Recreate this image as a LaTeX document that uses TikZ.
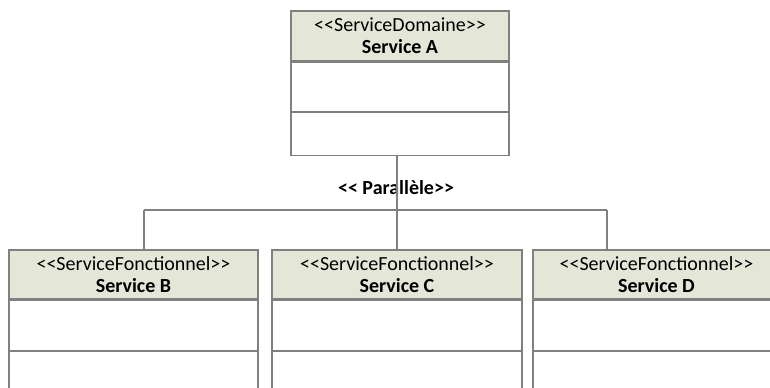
\documentclass[tikz,border=0pt]{standalone}
\usepackage{fontspec}
\setmainfont{Carlito}
\definecolor{hdr}{RGB}{228,231,215}
\definecolor{ln}{RGB}{128,128,128}
\begin{document}
\begin{tikzpicture}[x=0.75pt,y=-0.75pt,
  hdrbox/.style={draw=ln,line width=0.8pt,fill=hdr,inner sep=0pt,align=center,
    font=\fontsize{15}{16.5}\selectfont,minimum height=49*0.75pt},
  cmpbox/.style={draw=ln,line width=0.8pt,fill=white,inner sep=0pt},
  wire/.style={draw=ln,line width=0.8pt},
  lbl/.style={font=\bfseries\fontsize{15}{17}\selectfont,inner sep=0pt}]
\useasboundingbox (0,0) rectangle (770,387);
\clip (0,0) rectangle (770,387);
\fill[white] (0,0) rectangle (770,387);
% Service A
\node[hdrbox,minimum width=218*0.75pt,minimum height=50*0.75pt] (Ah) at (400,36)
  {<{}<ServiceDomaine>{}>\\\textbf{Service A}};
\node[cmpbox,anchor=north,minimum width=218*0.75pt,minimum height=49*0.75pt] (A1) at (Ah.south) {};
\node[cmpbox,anchor=north,minimum width=218*0.75pt,minimum height=43*0.75pt] (A2) at (A1.south) {};
% Service B
\node[hdrbox,minimum width=249*0.75pt] (Bh) at (133.5,274.5)
  {<{}<ServiceFonctionnel>{}>\\\textbf{Service B}};
\node[cmpbox,anchor=north,minimum width=249*0.75pt,minimum height=50*0.75pt] (B1) at (Bh.south) {};
\node[cmpbox,anchor=north,minimum width=249*0.75pt,minimum height=60*0.75pt] (B2) at (B1.south) {};
% Service C
\node[hdrbox,minimum width=250*0.75pt] (Ch) at (397,274.5)
  {<{}<ServiceFonctionnel>{}>\\\textbf{Service C}};
\node[cmpbox,anchor=north,minimum width=250*0.75pt,minimum height=50*0.75pt] (C1) at (Ch.south) {};
\node[cmpbox,anchor=north,minimum width=250*0.75pt,minimum height=60*0.75pt] (C2) at (C1.south) {};
% Service D
\node[hdrbox,minimum width=247*0.75pt] (Dh) at (656.5,274.5)
  {<{}<ServiceFonctionnel>{}>\\\textbf{Service D}};
\node[cmpbox,anchor=north,minimum width=247*0.75pt,minimum height=50*0.75pt] (D1) at (Dh.south) {};
\node[cmpbox,anchor=north,minimum width=247*0.75pt,minimum height=60*0.75pt] (D2) at (D1.south) {};
% label
\node[lbl] (par) at (396,188) {<{}< Parallèle>{}>};
% connectors
\coordinate (trunk) at (397,210);
\coordinate (jB) at (144,210);
\coordinate (jD) at (607,210);
\draw[wire] (A2.south -| trunk) -- (Ch.north -| trunk);
\draw[wire] (jB) -- (jD);
\draw[wire] (jB) -- (Bh.north -| jB);
\draw[wire] (jD) -- (Dh.north -| jD);
\end{tikzpicture}
\end{document}
